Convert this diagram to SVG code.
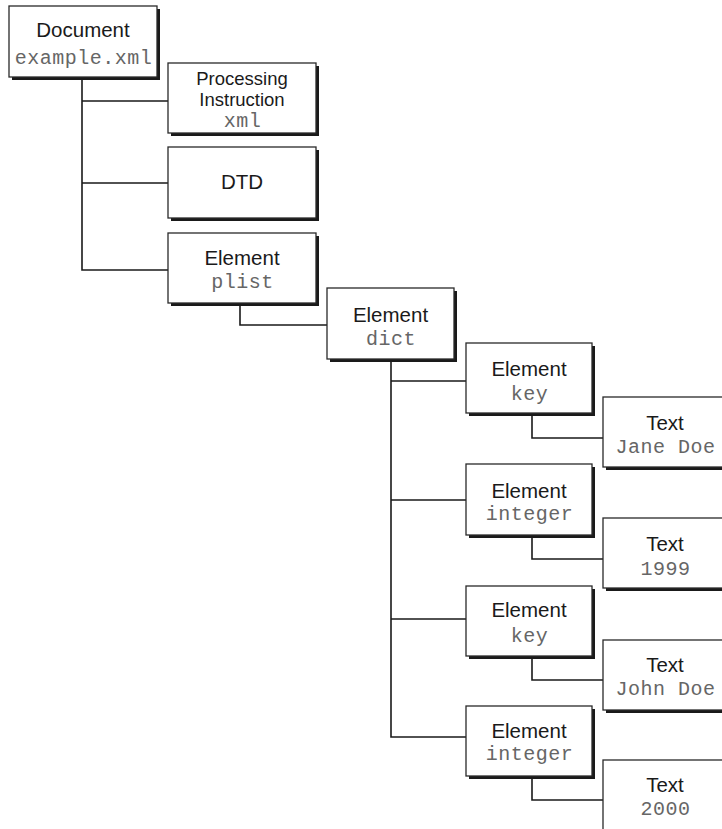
<svg xmlns="http://www.w3.org/2000/svg" width="722" height="829" viewBox="0 0 722 829">
<style>
.sh{fill:#1a1a1a}
.bx{fill:#fff;stroke:#2a2a2a;stroke-width:1.3}
.t{font-family:"Liberation Sans",Arial,sans-serif;font-size:20.5px;fill:#1a1a1a;text-anchor:middle}
.p{font-size:18.5px}
.m{font-family:"Liberation Mono","DejaVu Sans Mono",monospace;font-size:20px;letter-spacing:0.5px;fill:#666;text-anchor:middle}
.c{fill:none;stroke:#1a1a1a;stroke-width:1.6}
</style>
<rect width="722" height="829" fill="#fff"/>
<g id="connectors">
<path class="c" d="M82,77 V270 H168 M82,101 H168 M82,183 H168"/>
<path class="c" d="M240,303 V325 H327"/>
<path class="c" d="M391,359 V737 H466 M391,381 H466 M391,500 H466 M391,619 H466"/>
<path class="c" d="M532,413 V438 H603"/>
<path class="c" d="M532,535 V559 H603"/>
<path class="c" d="M532,656 V680 H603"/>
<path class="c" d="M532,776 V800 H603"/>
</g>
<g id="document">
<rect class="sh" x="12" y="9" width="148" height="71"/>
<rect class="bx" x="9" y="6" width="148" height="71"/>
<text class="t" x="83" y="37">Document</text>
<text class="m" x="83.5" y="64">example.xml</text>
</g>
<g id="pi">
<rect class="sh" x="171" y="66" width="148" height="70"/>
<rect class="bx" x="168" y="63" width="148" height="70"/>
<text class="t p" x="242" y="85">Processing</text>
<text class="t p" x="242" y="106">Instruction</text>
<text class="m" x="242.5" y="127">xml</text>
</g>
<g id="dtd">
<rect class="sh" x="171" y="150" width="148" height="71"/>
<rect class="bx" x="168" y="147" width="148" height="71"/>
<text class="t" x="242" y="189">DTD</text>
</g>
<g id="plist">
<rect class="sh" x="171" y="236" width="148" height="70"/>
<rect class="bx" x="168" y="233" width="148" height="70"/>
<text class="t" x="242" y="265">Element</text>
<text class="m" x="242.5" y="288">plist</text>
</g>
<g id="dict">
<rect class="sh" x="330" y="291" width="127" height="71"/>
<rect class="bx" x="327" y="288" width="127" height="71"/>
<text class="t" x="390.5" y="322">Element</text>
<text class="m" x="391" y="345">dict</text>
</g>
<g id="key1">
<rect class="sh" x="469" y="346" width="126" height="70"/>
<rect class="bx" x="466" y="343" width="126" height="70"/>
<text class="t" x="529" y="376">Element</text>
<text class="m" x="529.5" y="400">key</text>
</g>
<g id="text1">
<rect class="sh" x="606" y="400" width="126" height="70"/>
<rect class="bx" x="603" y="397" width="126" height="70"/>
<text class="t" x="665" y="430">Text</text>
<text class="m" x="665.5" y="453">Jane Doe</text>
</g>
<g id="integer1">
<rect class="sh" x="469" y="467" width="126" height="71"/>
<rect class="bx" x="466" y="464" width="126" height="71"/>
<text class="t" x="529" y="497.5">Element</text>
<text class="m" x="529.5" y="520">integer</text>
</g>
<g id="text2">
<rect class="sh" x="606" y="521" width="126" height="70"/>
<rect class="bx" x="603" y="518" width="126" height="70"/>
<text class="t" x="665" y="551">Text</text>
<text class="m" x="665.5" y="575">1999</text>
</g>
<g id="key2">
<rect class="sh" x="469" y="589" width="126" height="70"/>
<rect class="bx" x="466" y="586" width="126" height="70"/>
<text class="t" x="529" y="617">Element</text>
<text class="m" x="529.5" y="641.5">key</text>
</g>
<g id="text3">
<rect class="sh" x="606" y="643" width="126" height="70"/>
<rect class="bx" x="603" y="640" width="126" height="70"/>
<text class="t" x="665" y="672">Text</text>
<text class="m" x="665.5" y="695">John Doe</text>
</g>
<g id="integer2">
<rect class="sh" x="469" y="709" width="126" height="70"/>
<rect class="bx" x="466" y="706" width="126" height="70"/>
<text class="t" x="529" y="737.5">Element</text>
<text class="m" x="529.5" y="760">integer</text>
</g>
<g id="text4">
<rect class="sh" x="606" y="763" width="126" height="70"/>
<rect class="bx" x="603" y="760" width="126" height="70"/>
<text class="t" x="665" y="792">Text</text>
<text class="m" x="665.5" y="815">2000</text>
</g>
</svg>
